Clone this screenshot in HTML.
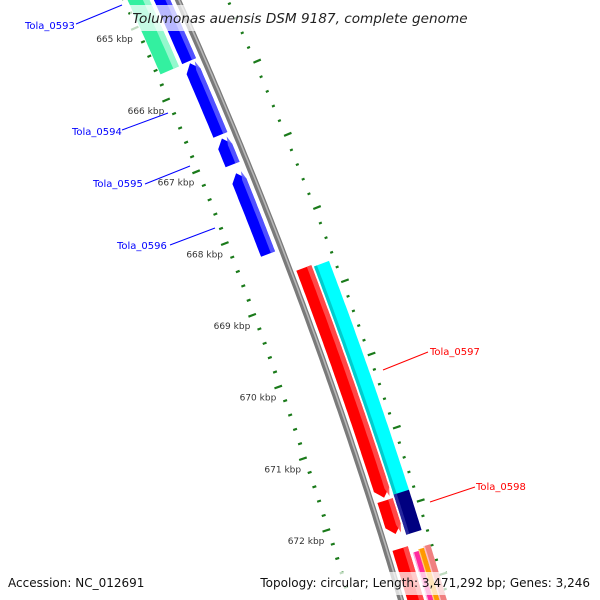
<!DOCTYPE html>
<html><head><meta charset="utf-8"><style>
html,body{margin:0;padding:0;background:#fff;width:600px;height:600px;overflow:hidden}
svg{display:block;font-family:"DejaVu Sans","Liberation Sans",sans-serif}
</style></head><body>
<svg id="map" width="600" height="600" viewBox="0 0 600 600" style="overflow:hidden" xmlns="http://www.w3.org/2000/svg">
<defs><clipPath id="frame"><rect x="0" y="0" width="600" height="600"/></clipPath></defs>
<g clip-path="url(#frame)">
<g id="ticks"></g>
<g id="genes"></g>
<g id="backbone"></g>
<g id="kbplabels"></g>
<g id="genelabels"></g>
<rect x="130" y="5" width="340" height="26" fill="rgba(255,255,255,0.72)"/>
<text x="300" y="23" text-anchor="middle" font-size="13.6" font-style="italic" fill="#222">Tolumonas auensis DSM 9187, complete genome</text>
<rect x="4" y="572" width="142" height="23" fill="rgba(255,255,255,0.72)"/>
<text x="8" y="587" font-size="12" fill="#111">Accession: NC_012691</text>
<rect x="256" y="572" width="338" height="23" fill="rgba(255,255,255,0.72)"/>
<text x="590" y="587" text-anchor="end" font-size="12" fill="#111">Topology: circular; Length: 3,471,292 bp; Genes: 3,246</text>
</g>
</svg>
<script>
const geneNames=["green-gene","Tola_0593","Tola_0594","Tola_0595","Tola_0596","Tola_0597a","Tola_0597","Tola_0598a","Tola_0598","red-gene-3","pink-gene","orange-gene","salmon-gene"];
const geneStart=[663.8,664.3,665.69,666.73,667.21,668.66,668.69,671.86,671.82,672.52,672.62,672.6,672.58];
const geneEnd=[665.67,665.66,666.68,667.09,668.33,671.82,671.85,672.32,672.37,674.5,674.5,674.5,674.5];
const geneStrand=[-1,-1,-1,-1,-1,1,0,1,0,1,0,0,0];
const geneColor=["#33f0a0","#0000ff","#0000ff","#0000ff","#0000ff","#ff0000","#00ffff","#ff0000","#000080","#ff0000","#ff2aa0","#ff9900","#f08080"];
const geneLight=["#9ff8d2","#5a5aff","#5a5aff","#5a5aff","#5a5aff","#ff5050","#00c8c8","#ff5050","#2a2aa0","#ff5050","#ffc0e0","#ffd090","#ffc8c8"];
const geneInner=[-46,-22,-22,-22,-22,6,24,6,24,6,25,31,37];
const geneOuter=[-26,-7,-7,-7,-7,22,40,22,40,22,31,37,44];
const tickStartKbp=664.4, tickEndKbp=673.4;
const kbpLabels=[665,666,667,668,669,670,671,672];
const labelText=["Tola_0593","Tola_0594","Tola_0595","Tola_0596","Tola_0597","Tola_0598"];
const labelColor=["#0000ff","#0000ff","#0000ff","#0000ff","#ff0000","#ff0000"];

const NS="http://www.w3.org/2000/svg";
function bx(p){return 178+0.4477*p-1.267e-4*p*p;}
function slope(p){return 0.4477-2*1.267e-4*p;}
function pt(p,d){const s=slope(p),L=Math.hypot(s,1);const nx=1/L,ny=-s/L;return [bx(p)+d*nx,p+d*ny];}
function kp(k){return 80+(k-666)*72.5;}
function mk(tag,attrs,parent){const e=document.createElementNS(NS,tag);for(const k in attrs)e.setAttribute(k,attrs[k]);parent.appendChild(e);return e;}

const bb=document.getElementById('backbone');
let dpath="";for(let p=-20;p<=620;p+=5){const q=pt(p,0);dpath+=(p==-20?"M":"L")+q[0].toFixed(1)+","+q[1].toFixed(1);}
const b1=mk('path',{d:dpath,stroke:"#7a7a7a","stroke-width":6,fill:"none"},bb);


const b2=mk('path',{d:dpath,stroke:"#b8b8b8","stroke-width":1.6,fill:"none",transform:"translate(1,0)"},bb);



const gg=document.getElementById('genes');
function genePoly(ps,pe,di,dout,strand){
  const head=8, mid=(di+dout)/2;
  const left=[],right=[];
  const step=3;
  let a=ps,b=pe;
  if(strand==-1){left.push(pt(ps,mid));a=ps+head;}
  if(strand==1){b=pe-head;}
  for(let p=a;p<b;p+=step){left.push(pt(p,di));right.push(pt(p,dout));}
  left.push(pt(b,di));right.push(pt(b,dout));
  if(strand==1){left.push(pt(pe,mid));}
  const all=left.concat(right.reverse());
  return all.map(q=>q[0].toFixed(1)+","+q[1].toFixed(1)).join(" ");
}
for(let i=0;i<geneNames.length;i++){
  const ps=kp(geneStart[i]),pe=Math.min(kp(geneEnd[i]),640);
  const g=mk('g',{},gg);
  
  
  const p1=mk('polygon',{points:genePoly(ps,pe,geneInner[i],geneOuter[i],geneStrand[i]),fill:geneColor[i]},g);
  
  
  const w=geneOuter[i]-geneInner[i];
  const hi=(geneStrand[i]==0)?geneInner[i]:geneOuter[i]-w*0.3;
  const ho=(geneStrand[i]==0)?geneInner[i]+w*0.2:geneOuter[i];
  const p2=mk('polygon',{points:genePoly(ps,pe,hi,ho,geneStrand[i]==0?0:geneStrand[i]),fill:geneLight[i],opacity:0.9},g);
  
  
}

const tg=document.getElementById('ticks');
for(let k=Math.round(tickStartKbp*5);k<=Math.round(tickEndKbp*5);k++){
  const kb=k/5, p=kp(kb), major=(k%5==0);
  [[major?-55:-51,-47],[44,major?52:47]].forEach(s=>{
    const a=pt(p,s[0]), b=pt(p,s[1]);
    const l=mk('line',{x1:a[0],y1:a[1],x2:b[0],y2:b[1],stroke:"#1a7a1a","stroke-width":2.2},tg);
    
    
  });
}
const kl=document.getElementById('kbplabels');
kbpLabels.forEach(k=>{
  const q=pt(kp(k),-53);
  const t=mk('text',{x:q[0].toFixed(1),y:(q[1]+13).toFixed(1),"text-anchor":"end","font-size":"9",fill:"#333"},kl);
  t.textContent=k+" kbp";
  
  
});

const gl=document.getElementById('genelabels');
const labelX=[25,72,93,117,430,476];
const labelY=[29,135,187,249,355,490];
const lineFrom=[[76,24],[122,130],[145,184],[170,245],[383,370],[430,502]];
const lineTo=[[122,5],[168,113],[190,166],[215,228],[428,352],[475,487]];
for(let i=0;i<labelText.length;i++){
  const g=mk('g',{},gl);
  
  
  const l=mk('line',{x1:lineFrom[i][0],y1:lineFrom[i][1],x2:lineTo[i][0],y2:lineTo[i][1],stroke:labelColor[i],"stroke-width":1},g);
  
  
  const t=mk('text',{x:labelX[i],y:labelY[i],"font-size":"10",fill:labelColor[i]},g);
  t.textContent=labelText[i];
  
  
}
</script>
</body></html>
